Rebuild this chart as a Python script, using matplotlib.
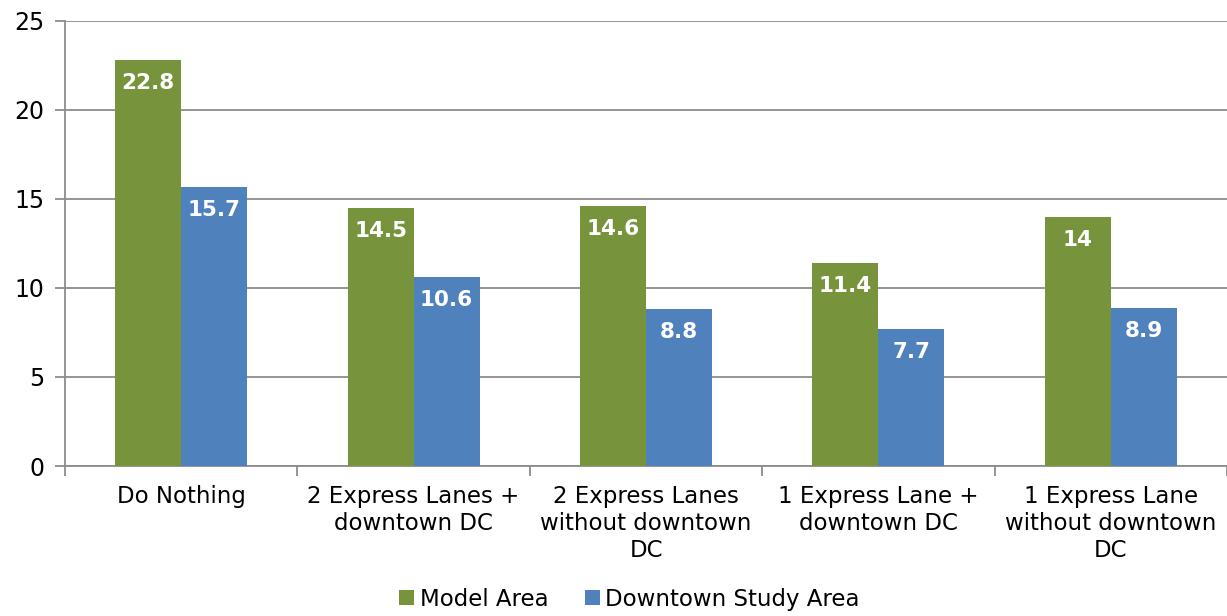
import matplotlib.pyplot as plt
import numpy as np

categories = ["Do Nothing", "2 Express Lanes +\ndowntown DC", "2 Express Lanes\nwithout downtown\nDC",
              "1 Express Lane +\ndowntown DC", "1 Express Lane\nwithout downtown\nDC"]
model_area = [22.8, 14.5, 14.6, 11.4, 14]
downtown_area = [15.7, 10.6, 8.8, 7.7, 8.9]
value_labels_model = ["22.8", "14.5", "14.6", "11.4", "14"]
value_labels_downtown = ["15.7", "10.6", "8.8", "7.7", "8.9"]

GREEN = "#77933C"
BLUE = "#4F81BD"
GRID = "#8C8C8C"


def main():
    plt.rcParams['font.family'] = ['DejaVu Sans']
    fig = plt.figure(figsize=(12.27, 6.16), dpi=100)
    ax = fig.add_axes([0.053, 0.2435, 0.947, 0.7225])

    x = np.arange(len(categories))
    w = 0.284
    b1 = ax.bar(x - w / 2, model_area, w, color=GREEN, label="Model Area", zorder=3)
    b2 = ax.bar(x + w / 2, downtown_area, w, color=BLUE, label="Downtown Study Area", zorder=3)

    for bars, labels in ((b1, value_labels_model), (b2, value_labels_downtown)):
        for rect, lab in zip(bars, labels):
            ax.annotate(lab, (rect.get_x() + rect.get_width() / 2, rect.get_height()),
                        xytext=(0, -23), textcoords="offset pixels", ha="center", va="center",
                        color="white", fontsize=15.5, fontweight="bold", zorder=4)

    ax.set_xlim(-0.5, len(categories) - 0.5)
    ax.set_ylim(0, 25)
    ax.set_yticks([0, 5, 10, 15, 20, 25])
    ax.yaxis.grid(True, color=GRID, linewidth=1.3, zorder=0)

    ax.set_xticks(x)
    ax.set_xticklabels(categories, fontsize=16.5, linespacing=1.2)
    ax.tick_params(axis="x", length=0, pad=14)
    ax.set_xticks(np.arange(-0.5, len(categories), 1), minor=True)
    ax.tick_params(axis="x", which="minor", length=7, color=GRID, width=1.3)
    ax.tick_params(axis="y", length=7, color=GRID, width=1.3, labelsize=17, pad=8)

    for s in ("top", "right"):
        ax.spines[s].set_visible(False)
    for s in ("left", "bottom"):
        ax.spines[s].set_color(GRID)
        ax.spines[s].set_linewidth(1.3)

    fig.legend(loc="lower center", bbox_to_anchor=(0.513, -0.025), ncol=2, frameon=False,
               fontsize=16.5, handlelength=0.65, handleheight=0.65, handletextpad=0.25,
               columnspacing=1.6)

    fig.savefig("out.png", dpi=100)


if __name__ == "__main__":
    main()
